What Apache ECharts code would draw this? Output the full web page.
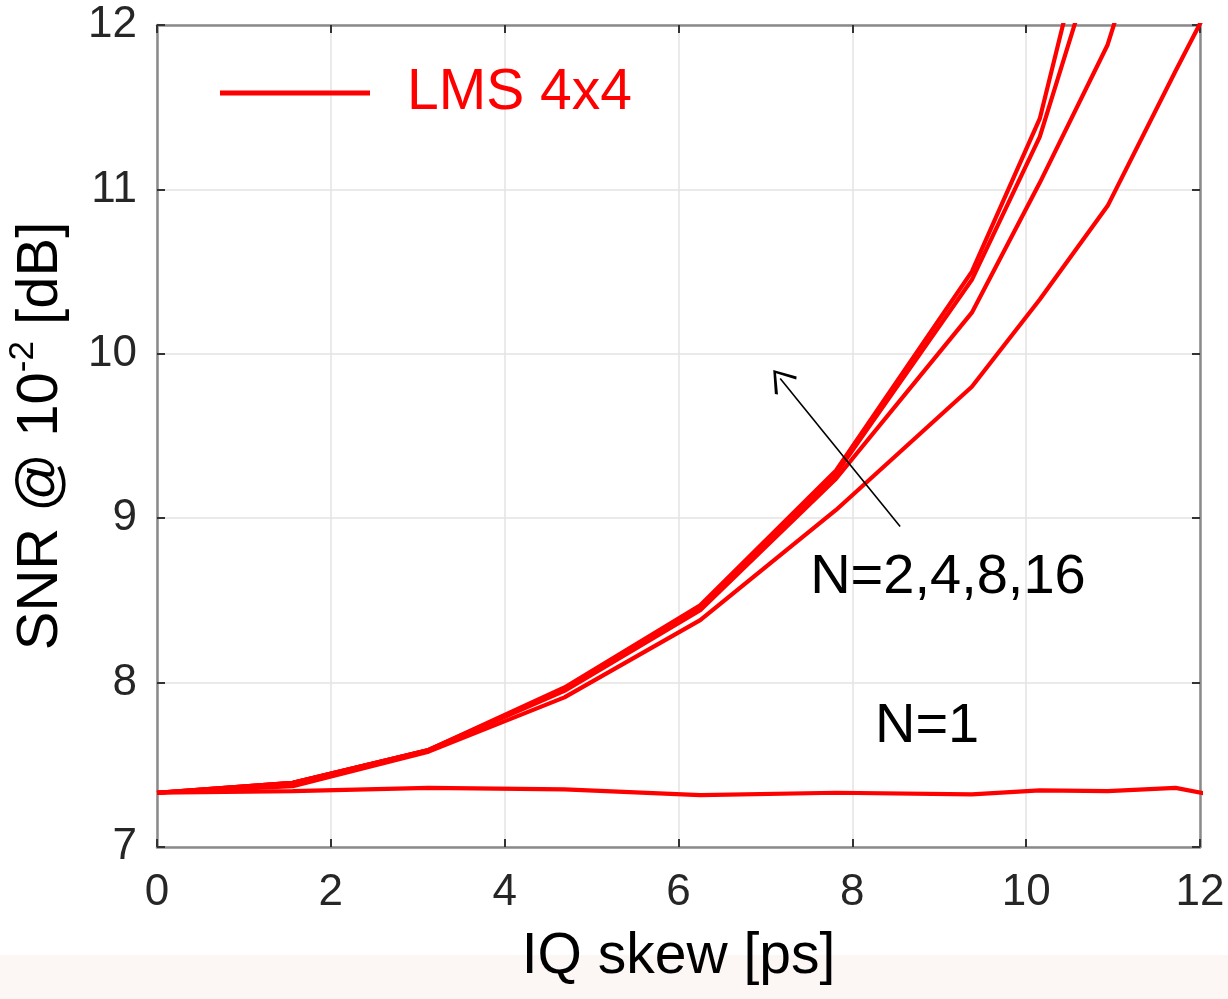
<!DOCTYPE html>
<html><head><meta charset="utf-8">
<script src="https://cdn.jsdelivr.net/npm/echarts@6/dist/echarts.min.js"></script>
<style>html,body{margin:0;padding:0;background:#fff}#c{width:1228px;height:999px}</style>
</head><body><div id="c"></div>
<script>
// IQ skew [ps] sample positions per curve
const xN16 = [0, 1.5625, 3.125, 4.6875, 6.25, 7.8125, 9.375, 10.15625, 10.9375];
const yN16 = [7.33, 7.39, 7.59, 7.97, 8.47, 9.29, 10.50, 11.43, 13.10];
const xN8  = [0, 1.5625, 3.125, 4.6875, 6.25, 7.8125, 9.375, 10.15625, 10.9375];
const yN8  = [7.33, 7.39, 7.59, 7.96, 8.46, 9.27, 10.45, 11.32, 12.65];
const xN4  = [0, 1.5625, 3.125, 4.6875, 6.25, 7.8125, 9.375, 10.15625, 10.9375, 11.71875];
const yN4  = [7.33, 7.39, 7.59, 7.95, 8.44, 9.24, 10.25, 11.04, 11.88, 13.20];
const xN2  = [0, 1.5625, 3.125, 4.6875, 6.25, 7.8125, 9.375, 10.15625, 10.9375, 11.71875, 12.5];
const yN2  = [7.33, 7.37, 7.58, 7.91, 8.38, 9.05, 9.80, 10.33, 10.90, 11.72, 12.52];
const xN1  = [0, 1.5625, 3.125, 4.6875, 6.25, 7.8125, 9.375, 10.15625, 10.9375, 11.71875, 12.5];
const yN1  = [7.33, 7.34, 7.36, 7.35, 7.315, 7.33, 7.32, 7.345, 7.34, 7.36, 7.28];
const xTickValues = [0, 2, 4, 6, 8, 10, 12];
const yTickValues = [7, 8, 9, 10, 11, 12];
const seriesName = 'LMS 4x4';
const labelBig = 'N=2,4,8,16';
const labelOne = 'N=1';
const arrowFrom = [8.55, 8.95];
const arrowTo = [7.17, 9.85];
const labelBigAt = [9.1, 8.64];
const labelOneAt = [8.86, 7.73];

const FONT = "'Liberation Sans', Arial, sans-serif";
const RED = '#ff0000';
const pairs = (xs, ys) => xs.map((x, i) => [x, ys[i]]);

const chart = echarts.init(document.getElementById('c'), null, {renderer: 'canvas'});

function mkSeries(xs, ys, extra) {
  return Object.assign({
    type: 'line', name: seriesName, data: pairs(xs, ys),
    symbol: 'none', clip: true, silent: true,
    lineStyle: {color: RED, width: 4.2},
    itemStyle: {color: RED},
    animation: false
  }, extra || {});
}

const axisBase = {
  type: 'value', min: 0, max: 12, interval: 2,
  axisLine: {show: true, onZero: false, lineStyle: {color: '#8a8a8a', width: 2.5}},
  axisTick: {show: true, inside: true, length: 8, lineStyle: {color: '#333', width: 2}},
};

const option = {
  backgroundColor: '#ffffff',
  animation: false,
  textStyle: {fontFamily: FONT},
  graphic: [{
    type: 'rect', left: 0, bottom: 0, z: -10,
    shape: {width: 1228, height: 44},
    style: {fill: '#fcf6f5'}
  }],
  grid: {left: 157, right: 28, top: 25, bottom: 152, containLabel: false, outerBoundsMode: 'none'},
  legend: {
    show: true, left: 215, top: 58,
    icon: 'rect',
    itemWidth: 150, itemHeight: 5, padding: 5,
    data: [seriesName],
    textStyle: {color: RED, fontSize: 57, fontFamily: FONT, padding: [0, 0, 0, 32], lineHeight: 60}
  },
  xAxis: [
    Object.assign({}, axisBase, {
      position: 'bottom',
      name: 'IQ skew [ps]', nameLocation: 'middle', nameGap: 82,
      nameTextStyle: {color: '#000', fontSize: 57, fontFamily: FONT},
      axisLabel: {show: true, color: '#262626', fontSize: 44, margin: 24, fontFamily: FONT},
      splitLine: {show: true, lineStyle: {color: '#e3e3e3', width: 1.5}}
    }),
    Object.assign({}, axisBase, {
      position: 'top',
      axisLabel: {show: false}, splitLine: {show: false}
    })
  ],
  yAxis: [
    Object.assign({}, axisBase, {
      min: 7, max: 12, interval: 1, position: 'left',
      name: '{a|SNR @ 10}{s|-2}{a| [dB]}', nameLocation: 'middle', nameGap: 87,
      nameTextStyle: {
        color: '#000', fontFamily: FONT,
        rich: {
          a: {fontSize: 58, color: '#000', fontFamily: FONT, lineHeight: 66, verticalAlign: 'bottom'},
          s: {fontSize: 35, color: '#000', fontFamily: FONT, lineHeight: 66, verticalAlign: 'top', padding: [2, 0, 0, 0]}
        }
      },
      axisLabel: {show: true, color: '#262626', fontSize: 44, margin: 20, fontFamily: FONT},
      splitLine: {show: true, lineStyle: {color: '#e3e3e3', width: 1.5}}
    }),
    Object.assign({}, axisBase, {
      min: 7, max: 12, interval: 1, position: 'right',
      axisLabel: {show: false}, splitLine: {show: false}
    })
  ],
  series: [
    mkSeries(xN16, yN16),
    mkSeries(xN8, yN8),
    mkSeries(xN4, yN4),
    mkSeries(xN2, yN2, {
      markLine: {
        silent: true, animation: false,
        symbol: ['none', 'path://M5,0 L10,9 L9.2,10 L5,2 L0.8,10 L0,9 Z'],
        symbolSize: [28, 22],
        lineStyle: {color: '#000', width: 1.6, type: 'solid'},
        label: {show: false},
        data: [[{coord: arrowFrom}, {coord: arrowTo}]]
      }
    }),
    mkSeries(xN1, yN1, {
      markPoint: {
        silent: true, animation: false,
        data: [
          {coord: labelBigAt, symbol: 'rect', symbolSize: 1, itemStyle: {color: 'rgba(0,0,0,0)'},
           label: {show: true, position: 'inside', formatter: labelBig, color: '#000', fontSize: 56, fontFamily: FONT}},
          {coord: labelOneAt, symbol: 'rect', symbolSize: 1, itemStyle: {color: 'rgba(0,0,0,0)'},
           label: {show: true, position: 'inside', formatter: labelOne, color: '#000', fontSize: 56, fontFamily: FONT}}
        ]
      }
    })
  ]
};
chart.setOption(option);
</script>
</body></html>
